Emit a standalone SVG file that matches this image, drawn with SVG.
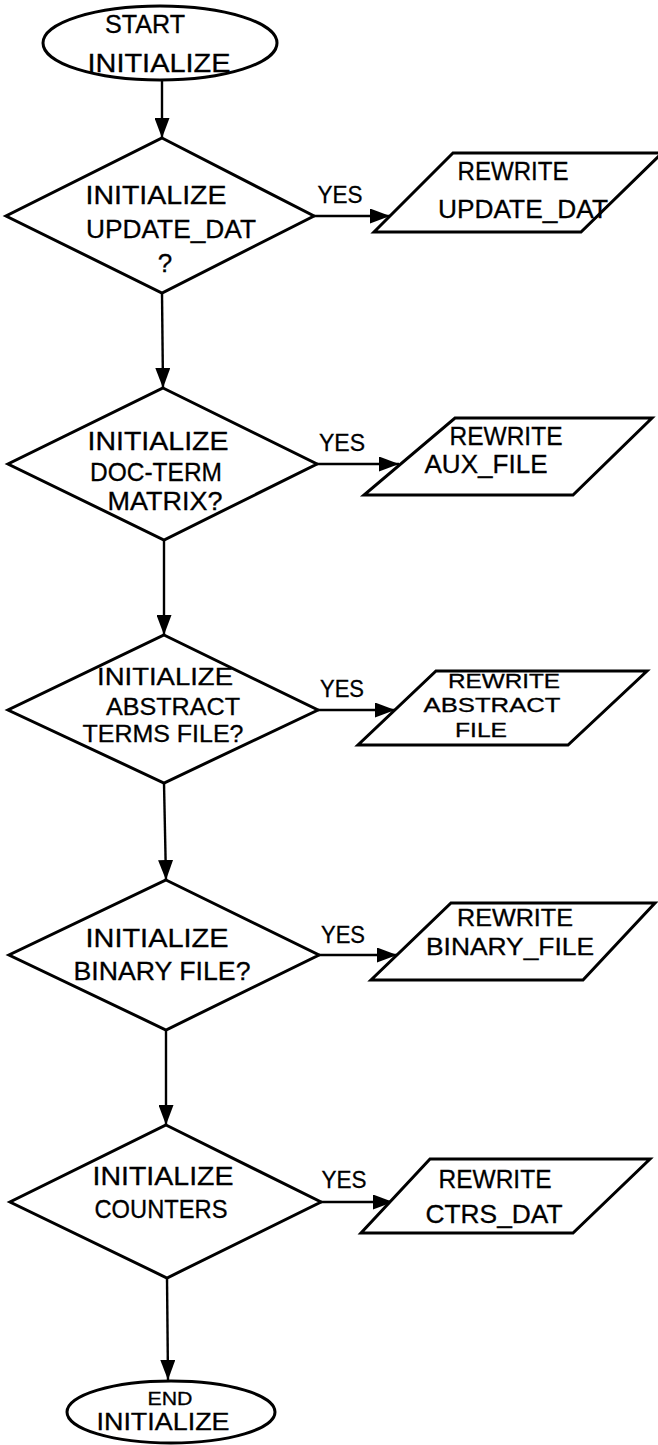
<svg xmlns="http://www.w3.org/2000/svg" width="658" height="1445" viewBox="0 0 658 1445">
  <style>
    .shape { fill: #fff; stroke: #000; stroke-width: 3; stroke-linejoin: miter; }
    .flow { stroke: #000; stroke-width: 2.4; fill: none; marker-end: url(#arrow); }
    text { font-family: "Liberation Sans", Arial, sans-serif; font-size: 26px; fill: #000; text-anchor: middle; stroke: #000; stroke-width: 0.3; }
    .mid { font-size: 24px; }
    .small { font-size: 23px; }
    .tight { font-size: 21px; }
  </style>
  <defs>
    <marker id="arrow" markerUnits="userSpaceOnUse" markerWidth="22" markerHeight="15" refX="20" refY="7.5" orient="auto">
      <path d="M0,0 L20,7.5 L0,15 z" fill="#000"/>
    </marker>
  </defs>
  <rect width="658" height="1445" fill="#fff"/>

  <!-- connectors -->
  <g id="connectors">
    <line class="flow" x1="162" y1="80" x2="162" y2="138"/>
    <line class="flow" x1="162" y1="293" x2="163" y2="388"/>
    <line class="flow" x1="164" y1="540" x2="164" y2="635"/>
    <line class="flow" x1="164" y1="783" x2="166" y2="880"/>
    <line class="flow" x1="166" y1="1030" x2="166" y2="1125"/>
    <line class="flow" x1="167" y1="1278" x2="168" y2="1380"/>
    <line class="flow" x1="314" y1="216" x2="390" y2="216"/>
    <line class="flow" x1="317" y1="464" x2="399" y2="464"/>
    <line class="flow" x1="318" y1="710" x2="395" y2="710"/>
    <line class="flow" x1="319" y1="955" x2="397" y2="955"/>
    <line class="flow" x1="321" y1="1202" x2="393" y2="1202"/>
    <text class="mid" x="340" y="203" textLength="45" lengthAdjust="spacingAndGlyphs">YES</text>
    <text class="mid" x="342" y="451" textLength="46" lengthAdjust="spacingAndGlyphs">YES</text>
    <text class="mid" x="342" y="697" textLength="44" lengthAdjust="spacingAndGlyphs">YES</text>
    <text class="mid" x="343" y="943" textLength="44" lengthAdjust="spacingAndGlyphs">YES</text>
    <text class="mid" x="344" y="1188" textLength="45" lengthAdjust="spacingAndGlyphs">YES</text>
  </g>

  <!-- terminal: start -->
  <g id="start">
    <ellipse class="shape" cx="160" cy="43" rx="117" ry="37"/>
    <text x="145" y="33" textLength="80" lengthAdjust="spacingAndGlyphs">START</text>
    <text x="159" y="72" textLength="143" lengthAdjust="spacingAndGlyphs">INITIALIZE</text>
  </g>

  <!-- decision 1 -->
  <g id="dec-update">
    <polygon class="shape" points="162,138 314,216 162,293 6,216"/>
    <text x="156" y="204" textLength="141" lengthAdjust="spacingAndGlyphs">INITIALIZE</text>
    <text x="171" y="238" textLength="170" lengthAdjust="spacingAndGlyphs">UPDATE_DAT</text>
    <text x="165" y="272">?</text>
  </g>
  <g id="io-update">
    <polygon class="shape" points="453,153 662,153 581,232 374,232"/>
    <text x="513" y="180" textLength="111" lengthAdjust="spacingAndGlyphs">REWRITE</text>
    <text x="523" y="218" textLength="170" lengthAdjust="spacingAndGlyphs">UPDATE_DAT</text>
  </g>

  <!-- decision 2 -->
  <g id="dec-docterm">
    <polygon class="shape" points="163,388 317,464 164,540 8,464"/>
    <text x="158" y="450" textLength="141" lengthAdjust="spacingAndGlyphs">INITIALIZE</text>
    <text x="156" y="481" textLength="132" lengthAdjust="spacingAndGlyphs">DOC-TERM</text>
    <text x="165" y="510" textLength="115" lengthAdjust="spacingAndGlyphs">MATRIX?</text>
  </g>
  <g id="io-aux">
    <polygon class="shape" points="455,418 652,418 573,495 364,495"/>
    <text x="506" y="445" textLength="113" lengthAdjust="spacingAndGlyphs">REWRITE</text>
    <text x="486" y="473" textLength="123" lengthAdjust="spacingAndGlyphs">AUX_FILE</text>
  </g>

  <!-- decision 3 -->
  <g id="dec-abstract">
    <polygon class="shape" points="164,635 318,710 164,783 8,710"/>
    <text class="mid" x="165" y="685" textLength="136" lengthAdjust="spacingAndGlyphs">INITIALIZE</text>
    <text class="mid" x="173" y="715" textLength="134" lengthAdjust="spacingAndGlyphs">ABSTRACT</text>
    <text class="mid" x="163" y="742" textLength="161" lengthAdjust="spacingAndGlyphs">TERMS FILE?</text>
  </g>
  <g id="io-abstract">
    <polygon class="shape" points="436,671 647,671 568,745 358,745"/>
    <text class="tight" x="504" y="688" textLength="112" lengthAdjust="spacingAndGlyphs">REWRITE</text>
    <text class="tight" x="492" y="712" textLength="137" lengthAdjust="spacingAndGlyphs">ABSTRACT</text>
    <text class="tight" x="481" y="737" textLength="52" lengthAdjust="spacingAndGlyphs">FILE</text>
  </g>

  <!-- decision 4 -->
  <g id="dec-binary">
    <polygon class="shape" points="166,880 319,955 166,1030 9,955"/>
    <text x="157" y="947" textLength="143" lengthAdjust="spacingAndGlyphs">INITIALIZE</text>
    <text x="162" y="980" textLength="177" lengthAdjust="spacingAndGlyphs">BINARY FILE?</text>
  </g>
  <g id="io-binary">
    <polygon class="shape" points="451,903 655,903 583,980 371,980"/>
    <text class="small" x="515" y="926" textLength="116" lengthAdjust="spacingAndGlyphs">REWRITE</text>
    <text class="small" x="510" y="955" textLength="168" lengthAdjust="spacingAndGlyphs">BINARY_FILE</text>
  </g>

  <!-- decision 5 -->
  <g id="dec-counters">
    <polygon class="shape" points="166,1125 321,1202 167,1278 10,1202"/>
    <text x="163" y="1185" textLength="141" lengthAdjust="spacingAndGlyphs">INITIALIZE</text>
    <text x="161" y="1218" textLength="133" lengthAdjust="spacingAndGlyphs">COUNTERS</text>
  </g>
  <g id="io-counters">
    <polygon class="shape" points="430,1159 650,1159 573,1233 361,1233"/>
    <text x="495" y="1188" textLength="113" lengthAdjust="spacingAndGlyphs">REWRITE</text>
    <text x="494" y="1223" textLength="137" lengthAdjust="spacingAndGlyphs">CTRS_DAT</text>
  </g>

  <!-- terminal: end -->
  <g id="end">
    <ellipse class="shape" cx="171" cy="1412" rx="104" ry="31"/>
    <text x="170" y="1405" style="font-size:19px" textLength="45" lengthAdjust="spacingAndGlyphs">END</text>
    <text class="mid" x="163" y="1430" textLength="133" lengthAdjust="spacingAndGlyphs">INITIALIZE</text>
  </g>
</svg>
